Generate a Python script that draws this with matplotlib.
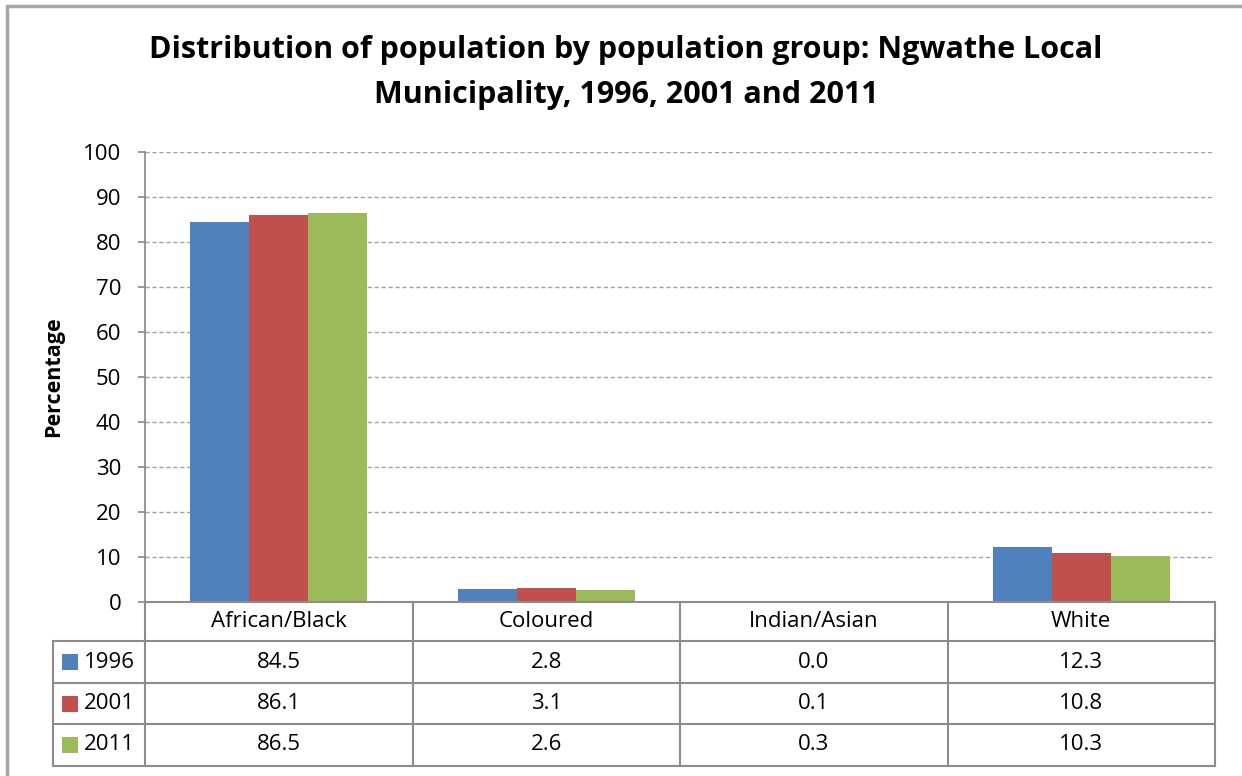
import matplotlib.pyplot as plt
import numpy as np
from matplotlib.transforms import blended_transform_factory
from matplotlib.patches import Rectangle
from matplotlib.lines import Line2D

plt.rcParams['font.family'] = ['Open Sans', 'DejaVu Sans']

# Данные
groups = ['African/Black', 'Coloured', 'Indian/Asian', 'White']
years = ['1996', '2001', '2011']
v1996 = [84.5, 2.8, 0.0, 12.3]
v2001 = [86.1, 3.1, 0.1, 10.8]
v2011 = [86.5, 2.6, 0.3, 10.3]
series = [v1996, v2001, v2011]
colors = ['#4F81BD', '#C0504D', '#9BBB59']

W, H = 1242, 776
fig = plt.figure(figsize=(W / 100, H / 100), dpi=100)

# Рамка вокруг диаграммы
fig.patches.append(Rectangle((7 / W, -0.01), 1.05, 1 - 6 / H + 0.01, transform=fig.transFigure,
                             fill=False, edgecolor='#A6A6A6', linewidth=2.5))

x0, x1 = 145, 1215
y_top, y_bot = 152, 602
ax = fig.add_axes([x0 / W, 1 - y_bot / H, (x1 - x0) / W, (y_bot - y_top) / H])

x = np.arange(len(groups))
bw = 0.22
for i, (vals, c) in enumerate(zip(series, colors)):
    ax.bar(x + (i - 1) * bw, vals, width=bw, color=c, label=years[i], zorder=3)

ax.set_xlim(-0.5, len(groups) - 0.5)
ax.set_ylim(0, 100)
ax.set_yticks(np.arange(0, 101, 10))
ax.set_xticks([])
ax.tick_params(axis='y', labelsize=16, length=5, color='#868686', width=1.2, pad=12)
ax.yaxis.grid(True, linestyle=(0, (3, 2)), color='#A0A0A0', linewidth=1)
for s in ['top', 'right', 'bottom']:
    ax.spines[s].set_visible(False)
ax.spines['left'].set_color('#868686')
ax.spines['left'].set_linewidth(1.2)
ax.set_ylabel('Percentage', fontsize=15.5, fontweight='bold', labelpad=14)

# Таблица данных под диаграммой
tr = blended_transform_factory(ax.transData, fig.transFigure)
trf = fig.transFigure
row_y = [602, 641, 683, 724, 766]
lc = '#8C8C8C'
lw = 1.5
fs = 16
fy = lambda p: 1 - p / H
lab_left = 53 / W
# горизонтальные линии
fig.add_artist(Line2D([x0 / W, x1 / W], [fy(row_y[0])] * 2, transform=trf, color=lc, lw=lw))
for ry in row_y[1:]:
    fig.add_artist(Line2D([lab_left, x1 / W], [fy(ry)] * 2, transform=trf, color=lc, lw=lw))
# вертикальные линии
fig.add_artist(Line2D([lab_left] * 2, [fy(row_y[1]), fy(row_y[-1])], transform=trf, color=lc, lw=lw))
for b in np.arange(len(groups) + 1) - 0.5:
    fig.add_artist(Line2D([b, b], [fy(row_y[0]), fy(row_y[-1])], transform=tr, color=lc, lw=lw))

for j, g in enumerate(groups):
    fig.text(j, fy((row_y[0] + row_y[1]) / 2), g, transform=tr, ha='center', va='center', fontsize=fs)
for i, vals in enumerate(series):
    yc = fy((row_y[i + 1] + row_y[i + 2]) / 2)
    fig.add_artist(Rectangle((62 / W, yc - 8 / H), 16 / W, 16 / H, transform=trf,
                             facecolor=colors[i], edgecolor='none'))
    fig.text(84 / W, yc, years[i], transform=trf, ha='left', va='center', fontsize=fs)
    for j, v in enumerate(vals):
        fig.text(j, yc, f'{v:.1f}', transform=tr, ha='center', va='center', fontsize=fs)

fig.suptitle('Distribution of population by population group: Ngwathe Local\nMunicipality, 1996, 2001 and 2011',
             x=626 / W, y=1 - 35 / H, va='top', fontsize=22, fontweight='bold', linespacing=1.65)

fig.savefig('out.png', dpi=100)
